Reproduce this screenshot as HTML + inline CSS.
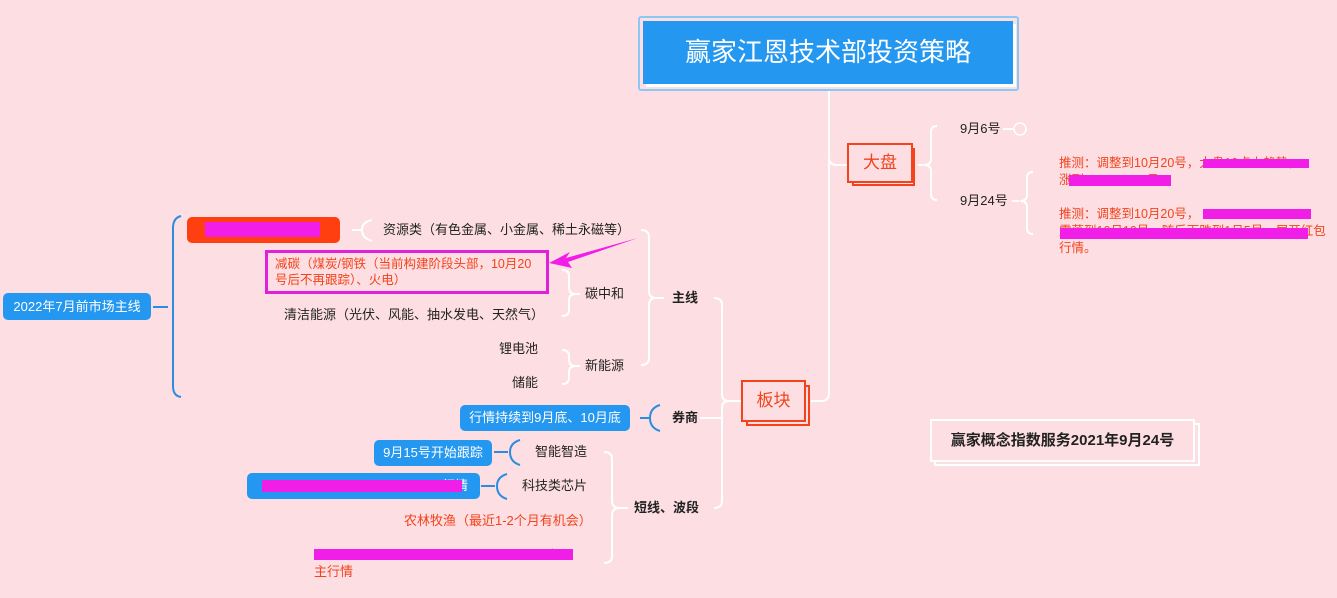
<!DOCTYPE html>
<html><head><meta charset="utf-8"><style>
body{margin:0;width:1337px;height:598px;background:#fddfe3;position:relative;overflow:hidden;font-family:"Liberation Sans","Noto Sans CJK SC",sans-serif;font-size:13px;color:#222}
.a{position:absolute;white-space:nowrap;line-height:16px}
.pill{position:absolute;background:#2497f0;color:#fff;border-radius:5px;text-align:center;font-size:13px}
.red{color:#f2431c}
.s{font-size:12.5px}
.b{font-weight:bold}
.m{position:absolute;background:#f01ee6}
</style></head><body>
<svg width="1337" height="598" style="position:absolute;left:0;top:0">
<g fill="none" stroke="#fff" stroke-width="2">
<path d="M829 91 V393 Q829 401 821 401 H811"/>
<path d="M829 157 Q829 165 837 165 H847"/>
<!-- 大盘 brace (opens right) -->
<path d="M918 165 H923 M937 126 Q931 126 931 132 V159 Q931 165 924 165 Q931 165 931 171 V194 Q931 200 937 200"/>
<path d="M1003 129 H1013"/><circle cx="1020" cy="129" r="6" stroke-width="1.5"/>
<path d="M1012 201 H1019 M1033 172 Q1027 172 1027 178 V195 Q1027 201 1020 201 Q1027 201 1027 207 V228 Q1027 234 1033 234"/>
<!-- 板块 brace (opens left) -->
<path d="M741 401 H729 M714 298 Q722 298 722 305 V394 Q722 401 729 401 Q722 401 722 408 V501 Q722 508 714 508 M722 418 H700"/>
<!-- 主线 -->
<path d="M664 298 H656 M641 230 Q649 230 649 237 V291 Q649 298 656 298 Q649 298 649 305 V358 Q649 365 641 365"/>
<!-- 碳中和 -->
<path d="M580 294 H576 M562 270 Q569 270 569 276 V288 Q569 294 576 294 Q569 294 569 300 V310 Q569 316 562 316"/>
<!-- 新能源 -->
<path d="M580 366 H576 M562 350 Q569 350 569 356 V360 Q569 366 576 366 Q569 366 569 372 V378 Q569 384 562 384"/>
<!-- 短线 -->
<path d="M628 508 H620 M604 452 Q612 452 612 459 V501 Q612 508 620 508 Q612 508 612 515 V556 Q612 563 604 563"/>
<!-- 资源类 small -->
<path d="M372 220 Q362 222 362 230 Q362 238 372 241 M352 230 H362"/>
</g>
<g fill="none" stroke="#2a8de0" stroke-width="2">
<path d="M153 307 H168 M181 216 Q173 218 173 228 V386 Q173 396 181 397"/>
<path d="M640 418 H650 M660 405 Q650 408 650 418 Q650 428 660 431"/>
<path d="M494 452 H508 M520 440 Q510 443 510 452 Q510 462 520 465"/>
<path d="M481 486 H495 M507 474 Q497 477 497 486 Q497 496 507 499"/>
</g>
<path d="M638 238 L566 258 L570 252 L549 263 L572 268 L568 262 Z" fill="#f01ee6"/>
</svg>

<!-- title -->
<div style="position:absolute;left:638px;top:16px;width:381px;height:75px;border:2px solid #8cc8f4;border-radius:3px;box-sizing:border-box"></div>
<div style="position:absolute;left:643px;top:21px;width:370px;height:63px;background:#2497f0;box-shadow:3px 3px 0 #fff;color:#fff;font-size:26px;text-align:center;line-height:62px">赢家江恩技术部投资策略</div>

<!-- 大盘 -->
<div style="position:absolute;left:852px;top:148px;width:63px;height:38px;border:2px solid #f2431c;box-sizing:border-box"></div>
<div style="position:absolute;left:847px;top:143px;width:66px;height:40px;border:2px solid #f2431c;background:#fddfe3;box-sizing:border-box;color:#f2431c;font-size:17px;text-align:center;line-height:36px">大盘</div>
<!-- 板块 -->
<div style="position:absolute;left:746px;top:385px;width:64px;height:41px;border:2px solid #f2431c;box-sizing:border-box"></div>
<div style="position:absolute;left:741px;top:380px;width:65px;height:42px;border:2px solid #f2431c;background:#fddfe3;box-sizing:border-box;color:#f2431c;font-size:17px;text-align:center;line-height:38px">板块</div>

<div class="a" style="left:960px;top:121px">9月6号</div>
<div class="a" style="left:960px;top:193px">9月24号</div>
<div class="a red s" style="left:1059px;top:155px">推测：调整到10月20号，大盘10点上趋势，</div>
<div class="a red s" style="left:1059px;top:172px">涨到xxxxxxxxxx月。</div>
<div class="m" style="left:1203px;top:159px;width:106px;height:9px"></div>
<div class="m" style="left:1069px;top:175px;width:102px;height:11px"></div>
<div class="a red s" style="left:1059px;top:206px">推测：调整到10月20号，</div>
<div class="a red s" style="left:1059px;top:223px">震荡到10月10号，随后下跌到1月5号，展开红包</div>
<div class="a red s" style="left:1059px;top:240px">行情。</div>
<div class="m" style="left:1203px;top:209px;width:108px;height:10px"></div>
<div class="m" style="left:1060px;top:228px;width:248px;height:11px"></div>

<!-- concept box -->
<div style="position:absolute;left:934px;top:423px;width:266px;height:43px;border:2px solid #fff;box-sizing:border-box"></div>
<div class="b" style="position:absolute;left:930px;top:419px;width:265px;height:43px;border:2px solid #fff;box-sizing:border-box;background:#fddfe3;font-size:15px;text-align:center;line-height:39px">赢家概念指数服务2021年9月24号</div>

<!-- left tree -->
<div class="pill" style="left:3px;top:293px;width:148px;height:27px;line-height:27px">2022年7月前市场主线</div>
<div style="position:absolute;left:187px;top:217px;width:153px;height:26px;background:#ff3f0f;border-radius:5px"></div>
<div class="m" style="left:205px;top:222px;width:115px;height:15px"></div>
<div class="a" style="left:383px;top:222px">资源类（有色金属、小金属、稀土永磁等）</div>
<div style="position:absolute;left:265px;top:250px;width:284px;height:44px;border:3px solid #e21fd9;box-sizing:border-box"></div>
<div class="a red s" style="left:275px;top:256px">减碳（煤炭/钢铁（当前构建阶段头部，10月20</div>
<div class="a red s" style="left:275px;top:272px">号后不再跟踪）、火电）</div>
<div class="a" style="left:585px;top:286px">碳中和</div>
<div class="a" style="left:284px;top:307px">清洁能源（光伏、风能、抽水发电、天然气）</div>
<div class="a b" style="left:672px;top:290px">主线</div>
<div class="a" style="left:499px;top:341px">锂电池</div>
<div class="a" style="left:512px;top:375px">储能</div>
<div class="a" style="left:585px;top:358px">新能源</div>
<div class="pill" style="left:460px;top:405px;width:170px;height:26px;line-height:26px">行情持续到9月底、10月底</div>
<div class="a b" style="left:672px;top:410px">券商</div>
<div class="pill" style="left:374px;top:440px;width:118px;height:26px;line-height:26px">9月15号开始跟踪</div>
<div class="a" style="left:535px;top:444px">智能智造</div>
<div class="pill" style="left:247px;top:473px;width:233px;height:26px;line-height:26px;text-align:right;padding-right:12px;box-sizing:border-box">行情</div>
<div class="m" style="left:262px;top:480px;width:200px;height:12px"></div>
<div class="a" style="left:522px;top:478px">科技类芯片</div>
<div class="a b" style="left:634px;top:500px">短线、波段</div>
<div class="a red" style="left:404px;top:513px">农林牧渔（最近1-2个月有机会）</div>
<div class="a red" style="left:314px;top:547px">xxxxxxxxxxxxxxxxxxxxxxxxxxxxxxxxxxxx入</div>
<div class="a red" style="left:314px;top:564px">主行情</div>
<div class="m" style="left:314px;top:549px;width:259px;height:11px"></div>
</body></html>
